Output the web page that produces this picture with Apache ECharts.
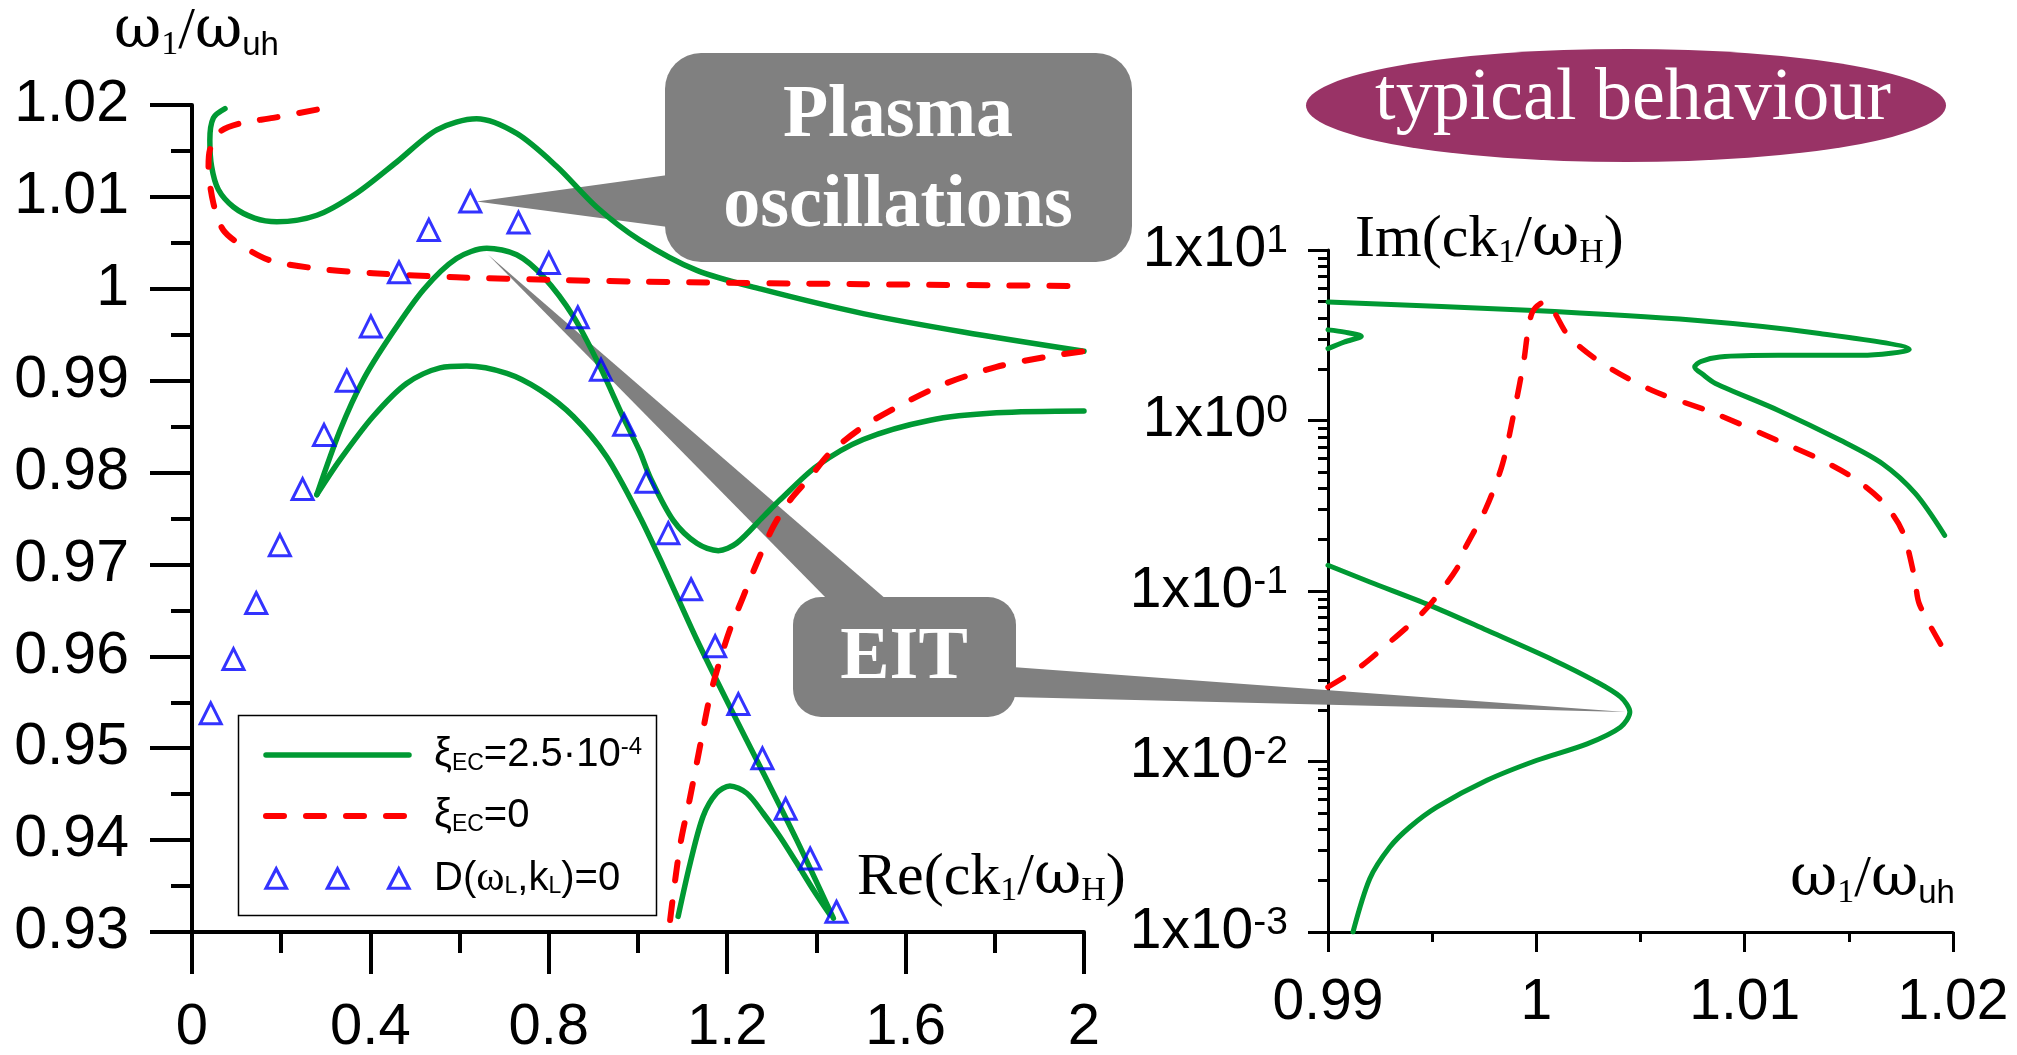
<!DOCTYPE html>
<html><head><meta charset="utf-8">
<script src="https://cdn.jsdelivr.net/npm/echarts@6/dist/echarts.min.js"></script>
<style>html,body{margin:0;padding:0;background:#fff}#c{width:2017px;height:1055px}</style>
</head><body><div id="c"></div>
<script>
// ---------------- DATA ----------------
// Left panel: Re(ck1/wH) (x) vs w1/wuh (y)
const leftGreenUpper = [[0.074,1.0196],[0.048,1.0186],[0.040,1.0162],[0.044,1.0133],[0.059,1.0108],[0.093,1.0089],[0.14,1.0077],[0.19,1.0073],[0.28,1.0080],[0.369,1.0104],[0.459,1.0138],[0.549,1.0173],[0.638,1.0185],[0.728,1.0169],[0.818,1.0133],[0.907,1.0089],[1.004,1.0053],[1.132,1.0020],[1.281,0.9999],[1.505,0.9973],[1.729,0.9953],[2.0,0.9932]];
const leftGreenPeak = [[0.280,0.9776],[0.332,0.9846],[0.384,0.9901],[0.444,0.9948],[0.519,0.9999],[0.593,1.0033],[0.661,1.0044],[0.728,1.0037],[0.788,1.0013],[0.855,0.9970],[0.915,0.9915],[0.967,0.9860],[1.004,0.9823],[1.027,0.9795],[1.079,0.9748],[1.132,0.9723],[1.180,0.9715],[1.221,0.9723],[1.281,0.9752],[1.318,0.9770],[1.401,0.9807],[1.505,0.9836],[1.655,0.9857],[1.804,0.9865],[2.0,0.9867]];
const leftGreenLower = [[0.280,0.9776],[0.332,0.9814],[0.406,0.9861],[0.481,0.9897],[0.556,0.9914],[0.616,0.9916],[0.706,0.9908],[0.780,0.9890],[0.855,0.9861],[0.930,0.9817],[1.004,0.9752],[1.057,0.9698],[1.132,0.9618],[1.206,0.9545],[1.281,0.9473],[1.356,0.9400],[1.438,0.9315]];
const leftGreenArc = [[1.090,0.9317],[1.117,0.9375],[1.146,0.9426],[1.176,0.9451],[1.206,0.9459],[1.244,0.9451],[1.281,0.9429],[1.318,0.9404],[1.356,0.9375],[1.393,0.9346],[1.430,0.9319]];
const leftRedUpper = [[0.280,1.0195],[0.182,1.0186],[0.108,1.0180],[0.063,1.0171],[0.040,1.0151],[0.037,1.0133],[0.048,1.0093],[0.070,1.0064],[0.115,1.0046],[0.175,1.0031],[0.280,1.0022],[0.406,1.0017],[0.593,1.00125],[0.818,1.00096],[1.004,1.00078],[1.505,1.0005],[2.0,1.0003]];
const leftRedLower = [[1.072,0.9313],[1.094,0.9393],[1.117,0.9447],[1.139,0.9502],[1.161,0.9556],[1.184,0.9596],[1.206,0.9629],[1.236,0.9665],[1.266,0.9701],[1.303,0.9741],[1.341,0.9770],[1.386,0.9795],[1.430,0.9821],[1.505,0.9850],[1.595,0.9875],[1.690,0.9897],[1.804,0.9915],[1.916,0.9926],[2.0,0.9932]];
const dispX = [0.042,0.093,0.144,0.197,0.248,0.296,0.347,0.401,0.464,0.531,0.624,0.732,0.800,0.865,0.917,0.969,1.019,1.068,1.119,1.173,1.225,1.279,1.331,1.386,1.445];
const dispY = [0.9538,0.9597,0.9658,0.9721,0.9782,0.9841,0.9900,0.9959,1.0018,1.0064,1.0095,1.0072,1.0028,0.9969,0.9912,0.9852,0.9790,0.9734,0.9673,0.9611,0.9548,0.9489,0.9434,0.9380,0.9322];

// Right panel: w1/wuh (x) vs Im(ck1/wH) (y, log)
const rightGreenTop = [[0.99,4.96],[0.9996,4.43],[1.0076,3.87],[1.0136,3.24],[1.0179,2.61],[1.0156,2.41],[1.0116,2.41],[1.0088,2.36],[1.0079,2.22],[1.0076,2.06],[1.0080,1.86],[1.0086,1.65],[1.0116,1.15],[1.0146,0.765],[1.0166,0.559],[1.0182,0.372],[1.0196,0.212]];
const rightGreenLoop = [[0.99,3.40],[0.9908,3.30],[0.9916,3.12],[0.9908,2.89],[0.99,2.64]];
const rightGreenBottom = [[0.99,0.1416],[0.99201,0.113],[0.9949,0.0824],[0.99763,0.0588],[1.00083,0.0393],[1.00276,0.0299],[1.00404,0.0239],[1.00449,0.0195],[1.00404,0.0159],[1.00244,0.0127],[1.00003,0.01017],[0.99763,0.00776],[0.99522,0.0054],[0.99393,0.00413],[0.99297,0.00315],[0.99201,0.00206],[0.9912,0.001]];
const rightRed = [[0.99,0.02735],[0.99153,0.0358],[0.99297,0.0502],[0.99441,0.0719],[0.99506,0.0881],[0.99618,0.135],[0.99645,0.166],[0.99757,0.303],[0.99838,0.558],[0.99898,1.20],[0.99938,2.16],[0.99978,4.24],[1.00038,4.96],[1.00158,3.09],[1.00317,2.16],[1.00557,1.50],[1.00857,1.10],[1.01156,0.765],[1.01355,0.597],[1.01515,0.466],[1.01655,0.340],[1.01755,0.227],[1.01815,0.121],[1.01839,0.0835],[1.01967,0.043]];

// axis ranges / ticks
const leftX = {min:0, max:2, interval:0.4};
const leftY = {min:0.93, max:1.02, interval:0.01};
const rightX = {min:0.99, max:1.02, interval:0.01};
const rightY = {min:0.001, max:10};
const logMinorTicks = [0.002,0.003,0.004,0.005,0.006,0.007,0.008,0.009,0.02,0.03,0.04,0.05,0.06,0.07,0.08,0.09,0.2,0.3,0.4,0.5,0.6,0.7,0.8,0.9,2,3,4,5,6,7,8,9];

// annotation anchors (data coords)
const plasmaTip = [0.638, 1.0095];
const eitTipLeft = [0.664, 1.0037];
const eitTipRight = [1.00429, 0.0195];

const nameG = 'ξEC=2.5·10-4', nameR = 'ξEC=0', nameD = 'D(ωL,kL)=0';
// -----------------------------------------------------------------

const GREEN = '#009933', RED = '#ff0000', BLUE = '#0000ff', GRAY = '#808080';
const SANS = "'Liberation Sans', Arial, sans-serif";
const SERIF = "'Liberation Serif', 'Times New Roman', serif";
const OMEGA = "'DejaVu Serif', serif";
const DASH = [18, 22];

function line(name, data, idx, color, dashed, w) {
  return {type:'line', name, data, xAxisIndex:idx, yAxisIndex:idx, symbol:'none', showSymbol:false, smooth:0.3,
    lineStyle:{color, width:w, type: dashed ? DASH : 'solid', cap:'round', join:'round'},
    itemStyle:{color}, emphasis:{disabled:true}, z: dashed ? 3 : 2, silent:true};
}

function axisCommon(w, tickLen, minorLen, fs, margin) {
  return {
    axisLine:{show:true, onZero:false, lineStyle:{color:'#000', width:w}},
    axisTick:{show:true, inside:false, length:tickLen, lineStyle:{color:'#000', width:w}},
    minorTick:{show:true, splitNumber:2, length:minorLen, lineStyle:{color:'#000', width:w}},
    splitLine:{show:false}, minorSplitLine:{show:false},
    axisLabel:{margin, fontSize:fs, fontFamily:SANS, color:'#000'}
  };
}

const chart = echarts.init(document.getElementById('c'), null, {renderer:'canvas', width:2017, height:1055});

const option = {
  animation:false,
  backgroundColor:'#fff',
  grid:[
    {left:192, top:105, width:892, height:827, containLabel:false, outerBoundsMode:'none'},
    {left:1328, top:250, width:625, height:682, containLabel:false, outerBoundsMode:'none'}
  ],
  xAxis:[
    Object.assign({gridIndex:0, type:'value', min:leftX.min, max:leftX.max, interval:leftX.interval}, axisCommon(4, 42, 21, 58, 67)),
    Object.assign({gridIndex:1, type:'value', min:rightX.min, max:rightX.max, interval:rightX.interval}, axisCommon(3, 20, 10, 57, 43))
  ],
  yAxis:[
    Object.assign({gridIndex:0, type:'value', min:leftY.min, max:leftY.max, interval:leftY.interval}, axisCommon(4, 42, 21, 59, 63)),
    (function(){
      const a = Object.assign({gridIndex:1, type:'log', logBase:10, min:rightY.min, max:rightY.max}, axisCommon(3, 20, 10, 57, 40));
      a.minorTick = {show:false};
      a.axisLabel = {margin:40, color:'#000',
        formatter: v => '{a|1x10}{b|' + Math.round(Math.log10(v)) + '}',
        rich:{a:{fontFamily:SANS, fontSize:57, lineHeight:57, color:'#000'},
              b:{fontFamily:SANS, fontSize:39, lineHeight:44, verticalAlign:'top', color:'#000'}}};
      return a;
    })(),
    {gridIndex:1, type:'log', logBase:10, min:rightY.min, max:rightY.max, position:'left',
      axisLine:{show:false}, axisLabel:{show:false}, splitLine:{show:false},
      axisTick:{show:true, inside:false, length:10, customValues:logMinorTicks, lineStyle:{color:'#000', width:3}}}
  ],
  legend:{
    orient:'vertical', left:263, top:735, padding:0, itemWidth:143, itemHeight:22, itemGap:21,
    selectedMode:false, z:5,
    data:[
      {name:nameG, itemStyle:{opacity:0}, lineStyle:{color:GREEN, width:5.5, type:'solid', cap:'round'}},
      {name:nameR, itemStyle:{opacity:0}, lineStyle:{color:RED, width:6, type:DASH, cap:'round'}},
      {name:nameD, icon:'path://M0,22L11.5,0L23,22Z M69,22L80.5,0L92,22Z M138,22L149.5,0L161,22Z',
       itemStyle:{color:'rgba(0,0,0,0)', borderColor:BLUE, borderWidth:3.2}}],
    formatter: function(n){
      if (n === nameG) return '{sp| }{m|ξ}{sb|EC}{m|=2.5·10}{su|-4}';
      if (n === nameR) return '{sp| }{m|ξ}{sb|EC}{m|=0}';
      return '{sp| }{m|D(}{w|ω}{sb|L}{m|,k}{sb|L}{m|)=0}';
    },
    textStyle:{color:'#000', rich:{
      sp:{width:20, fontSize:10},
      m:{fontFamily:SANS, fontSize:40, lineHeight:40, color:'#000'},
      w:{fontFamily:SERIF, fontSize:43, lineHeight:40, color:'#000'},
      sb:{fontFamily:SANS, fontSize:23, lineHeight:16, verticalAlign:'bottom', color:'#000'},
      su:{fontFamily:SANS, fontSize:24, lineHeight:19, verticalAlign:'top', color:'#000'}
    }}
  },
  series:[
    line(nameG, leftGreenUpper, 0, GREEN, false, 5.5),
    line(nameG, leftGreenPeak, 0, GREEN, false, 5.5),
    line(nameG, leftGreenLower, 0, GREEN, false, 5.5),
    line(nameG, leftGreenArc, 0, GREEN, false, 5.5),
    line(nameR, leftRedUpper, 0, RED, true, 6),
    line(nameR, leftRedLower, 0, RED, true, 6),
    {type:'scatter', name:nameD, xAxisIndex:0, yAxisIndex:0, symbol:'triangle', symbolSize:[21,21],
      data: dispX.map((x,i)=>[x, dispY[i]]),
      itemStyle:{color:'rgba(0,0,0,0)', borderColor:BLUE, borderWidth:3}, emphasis:{disabled:true}, z:4, silent:true},
    line(nameG, rightGreenTop, 1, GREEN, false, 5),
    line(nameG, rightGreenLoop, 1, GREEN, false, 5),
    line(nameG, rightGreenBottom, 1, GREEN, false, 5),
    line(nameR, rightRed, 1, RED, true, 5.5)
  ]
};
chart.setOption(option);

const pPlasma = chart.convertToPixel({xAxisIndex:0, yAxisIndex:0}, plasmaTip);
const pEIT1 = chart.convertToPixel({xAxisIndex:0, yAxisIndex:0}, eitTipLeft);
const pEIT2 = chart.convertToPixel({xAxisIndex:1, yAxisIndex:1}, eitTipRight);

const titleRich = {
  m:{fontFamily:SERIF, fontSize:60, lineHeight:60, fill:'#000'},
  o:{fontFamily:OMEGA, fontSize:58, lineHeight:60, fill:'#000'},
  s:{fontFamily:SERIF, fontSize:34, lineHeight:17, verticalAlign:'bottom', fill:'#000'},
  u:{fontFamily:SANS, fontSize:33, lineHeight:20, verticalAlign:'bottom', fill:'#000'}
};
function title(x, y, text) {
  return {type:'text', x, y, z:3, style:{text, rich:titleRich, align:'left', verticalAlign:'middle', fontSize:60, fontFamily:SERIF, fill:'#000'}};
}
function boldText(x, y, text) {
  return {type:'text', x, y, z:3, style:{text, fontSize:74, fontWeight:'bold', fontFamily:SERIF, fill:'#fff', align:'center', verticalAlign:'middle'}};
}

chart.setOption({graphic:{elements:[
  {type:'rect', shape:{x:665, y:53, width:467, height:209, r:36}, style:{fill:GRAY}, z:1},
  {type:'polygon', shape:{points:[pPlasma,[668,175],[668,227]]}, style:{fill:GRAY}, z:1},
  boldText(898, 117, 'Plasma'),
  boldText(898, 207, 'oscillations'),
  {type:'rect', shape:{x:793, y:597, width:223, height:120, r:28}, style:{fill:GRAY}, z:1},
  {type:'polygon', shape:{points:[pEIT1,[828,600],[887,600]]}, style:{fill:GRAY}, z:1},
  {type:'polygon', shape:{points:[[1012,667],pEIT2,[1012,697]]}, style:{fill:GRAY}, z:1},
  boldText(904, 659, 'EIT'),
  {type:'circle', x:1626, y:105.5, scaleX:320/56.5, shape:{cx:0, cy:0, r:56.5}, style:{fill:'#993366'}, z:1},
  {type:'text', x:1633, y:100, z:3, style:{text:'typical behaviour', fontSize:74, fontFamily:SERIF, fill:'#fff', align:'center', verticalAlign:'middle'}},
  {type:'rect', shape:{x:238.5, y:715.5, width:418, height:200}, style:{fill:'#fff', stroke:'#000', lineWidth:1.5}, z:1},
  title(114, 32, '{o|ω}{s|1}{m|/}{o|ω}{u|uh}'),
  title(857, 878, '{m|Re(ck}{s|1}{m|/}{o|ω}{s|H}{m|)}'),
  title(1355, 240, '{m|Im(ck}{s|1}{m|/}{o|ω}{s|H}{m|)}'),
  title(1790, 880, '{o|ω}{s|1}{m|/}{o|ω}{u|uh}')
]}});
</script>
</body></html>
